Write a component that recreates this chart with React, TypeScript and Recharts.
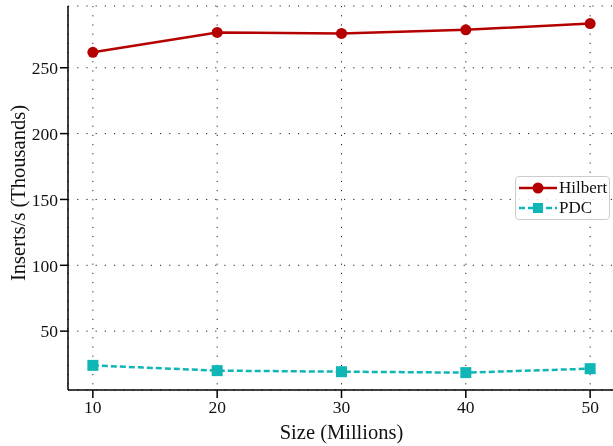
import { LineChart, Line, XAxis, YAxis, CartesianGrid } from "recharts";

const sizes = [10, 20, 30, 40, 50];
const hilbert = [261.7, 276.8, 276.1, 278.8, 283.6];
const pdc = [24, 20, 19.2, 18.5, 21.5];
const xTicks = [10, 20, 30, 40, 50];
const yTicks = [50, 100, 150, 200, 250];

const RED = "#b50000";
const TEAL = "#10b5b5";
const FONT = "'Liberation Serif', 'Times New Roman', serif";

const data = sizes.map((s, i) => ({ size: s, hilbert: hilbert[i], pdc: pdc[i] }));

function LegendBox() {
	const rows = [
		{ name: "Hilbert", color: RED, dash: undefined as string | undefined, square: false },
		{ name: "PDC", color: TEAL, dash: "6 3", square: true },
	];
	return (
		<div
			style={{
				position: "absolute",
				left: 515,
				top: 176,
				width: 95,
				boxSizing: "border-box",
				border: "1px solid #cccccc",
				borderRadius: 4,
				background: "rgba(255,255,255,0.85)",
				padding: "1px 0 1px 2px",
				fontFamily: FONT,
				fontSize: 17,
				lineHeight: "20px",
				color: "#111",
				whiteSpace: "nowrap",
			}}
		>
			{rows.map((r) => (
				<div key={r.name} style={{ display: "flex", alignItems: "center" }}>
					<svg width={40} height={20} style={{ marginRight: 1, flexShrink: 0 }}>
						<line x1={1} y1={10} x2={39} y2={10} stroke={r.color} strokeWidth={2.5} strokeDasharray={r.dash} />
						{r.square ? (
							<rect x={15} y={5} width={10} height={10} fill={r.color} />
						) : (
							<circle cx={20} cy={10} r={5.5} fill={r.color} />
						)}
					</svg>
					<span>{r.name}</span>
				</div>
			))}
		</div>
	);
}

function YLabel(props: any) {
	const { viewBox } = props;
	const x = viewBox.x + 18;
	const y = viewBox.y + viewBox.height / 2 - 5;
	return (
		<text
			x={x}
			y={y}
			transform={`rotate(-90, ${x}, ${y})`}
			textAnchor="middle"
			dominantBaseline="central"
			fill="#111"
			fontFamily={FONT}
			fontSize={20.5}
		>
			Inserts/s (Thousands)
		</text>
	);
}

export default function App() {
	return (
		<div style={{ position: "fixed", left: 0, top: 0, width: 613, height: 446 }}>
			<LineChart width={613} height={446} data={data} margin={{ top: 6, right: -2, bottom: 0, left: 0 }}>
				<CartesianGrid stroke="#222" strokeDasharray="1.2 8" strokeWidth={1} />
				<XAxis
					dataKey="size"
					type="number"
					domain={[8, 52]}
					ticks={xTicks}
					height={56}
					tickSize={8}
					tickMargin={3}
					axisLine={{ stroke: "#000", strokeWidth: 1.5 }}
					tickLine={{ stroke: "#000", strokeWidth: 1.5 }}
					tick={{ fill: "#111", fontFamily: FONT, fontSize: 17.5 }}
					label={{ value: "Size (Millions)", position: "insideBottom", offset: 7, style: { fill: "#111", fontFamily: FONT, fontSize: 20.5 } }}
				/>
				<XAxis xAxisId="top" orientation="top" type="number" domain={[8, 52]} height={0} tick={false} tickLine={false} axisLine={{ stroke: "#444", strokeWidth: 2 }} />
				<YAxis
					type="number"
					domain={[5.3, 296.9]}
					ticks={yTicks}
					width={68}
					tickSize={8}
					tickMargin={2}
					axisLine={{ stroke: "#000", strokeWidth: 1.5 }}
					tickLine={{ stroke: "#000", strokeWidth: 1.5 }}
					tick={{ fill: "#111", fontFamily: FONT, fontSize: 17.5 }}
					label={<YLabel />}
				/>
				<Line
					dataKey="hilbert"
					stroke={RED}
					strokeWidth={2.5}
					dot={{ r: 5.5, fill: RED, stroke: RED, strokeWidth: 0 }}
					isAnimationActive={false}
				/>
				<Line
					dataKey="pdc"
					stroke={TEAL}
					strokeWidth={2.5}
					strokeDasharray="6 3"
					dot={(p: any) => <rect key={p.index} x={p.cx - 5.5} y={p.cy - 5.5} width={11} height={11} fill={TEAL} />}
					isAnimationActive={false}
				/>
			</LineChart>
			<LegendBox />
		</div>
	);
}
